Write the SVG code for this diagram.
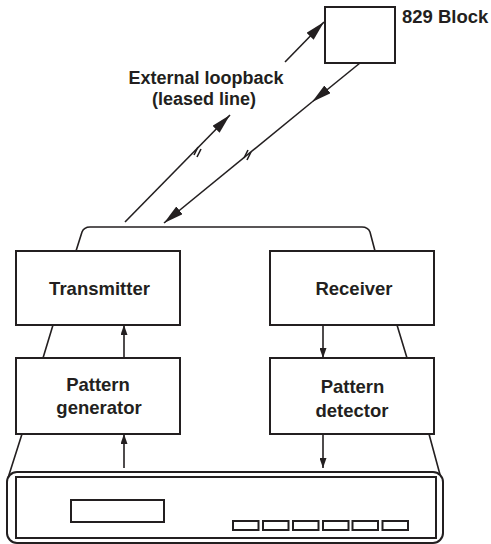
<svg xmlns="http://www.w3.org/2000/svg" width="491" height="544" viewBox="0 0 491 544">
<defs>
<style>
.box{fill:#fff;stroke:#231f20;stroke-width:2}
.ln{fill:none;stroke:#231f20;stroke-width:1.6}
.t{font-family:"Liberation Sans",Arial,sans-serif;font-weight:bold;font-size:18.5px;fill:#231f20;text-anchor:middle}
</style>
<marker id="big" viewBox="0 0 20 10" refX="20" refY="5" markerWidth="20" markerHeight="10" markerUnits="userSpaceOnUse" orient="auto">
<path d="M0,0 L20,5 L0,10 Z" fill="#231f20"/>
</marker>
<marker id="small" viewBox="0 0 10 7" refX="10" refY="3.5" markerWidth="10" markerHeight="7" markerUnits="userSpaceOnUse" orient="auto">
<path d="M0,0 L10,3.5 L0,7 Z" fill="#231f20"/>
</marker>
</defs>
<rect width="491" height="544" fill="#fff"/>

<g id="housing">
<path class="ln" d="M76,251 L82,232 Q84,227 90,227 L362,227 Q368,227 370,232 L375,251"/>
<path class="ln" d="M53,325 L43,358 M397,325 L407,358 M22,434 L8,478 M429,434 L442,482"/>
</g>

<g id="block829">
<rect class="box" x="325" y="7" width="70" height="56"/>
<text class="t" x="402" y="23" style="text-anchor:start">829 Block</text>
</g>

<g id="loopback-label">
<text class="t" x="206" y="84" style="font-size:18px">External loopback</text>
<text class="t" x="204" y="105" style="font-size:18px">(leased line)</text>
</g>

<g id="transmitter">
<rect class="box" x="16" y="251" width="164" height="74"/>
<text class="t" x="99.5" y="295">Transmitter</text>
</g>
<g id="receiver">
<rect class="box" x="270" y="251" width="164" height="74"/>
<text class="t" x="354" y="295">Receiver</text>
</g>
<g id="pattern-generator">
<rect class="box" x="16" y="358" width="164" height="76"/>
<text class="t" x="98" y="391">Pattern</text>
<text class="t" x="99" y="414">generator</text>
</g>
<g id="pattern-detector">
<rect class="box" x="270" y="358" width="164" height="76"/>
<text class="t" x="352.5" y="393">Pattern</text>
<text class="t" x="352" y="417">detector</text>
</g>

<g id="test-set">
<rect class="box" x="7" y="472" width="436" height="71" rx="10"/>
<rect class="box" x="16" y="477" width="420" height="61"/>
<rect class="box" x="71" y="500" width="93" height="22"/>
<rect class="box" x="233" y="521" width="25.5" height="9"/>
<rect class="box" x="263" y="521" width="25.5" height="9"/>
<rect class="box" x="293" y="521" width="25.5" height="9"/>
<rect class="box" x="323" y="521" width="25.5" height="9"/>
<rect class="box" x="352.5" y="521" width="25.5" height="9"/>
<rect class="box" x="382.5" y="521" width="25.5" height="9"/>
</g>

<g id="connectors">
<line class="ln" x1="125" y1="222" x2="230" y2="115" marker-end="url(#big)"/>
<line class="ln" x1="285" y1="62" x2="324" y2="22" marker-end="url(#big)"/>
<line class="ln" x1="360" y1="63" x2="312" y2="102" marker-end="url(#big)"/>
<line class="ln" x1="312" y1="102" x2="164" y2="223" marker-end="url(#big)"/>
<path class="ln" stroke-width="1.2" d="M194,155 L198,147 M197,157 L201,149 M244,158 L248,150 M247,160 L251,152"/>
<line class="ln" x1="124" y1="358" x2="124" y2="325" marker-end="url(#small)"/>
<line class="ln" x1="323" y1="325" x2="323" y2="358" marker-end="url(#small)"/>
<line class="ln" x1="124" y1="468" x2="124" y2="434" marker-end="url(#small)"/>
<line class="ln" x1="323" y1="434" x2="323" y2="468" marker-end="url(#small)"/>
</g>
</svg>
